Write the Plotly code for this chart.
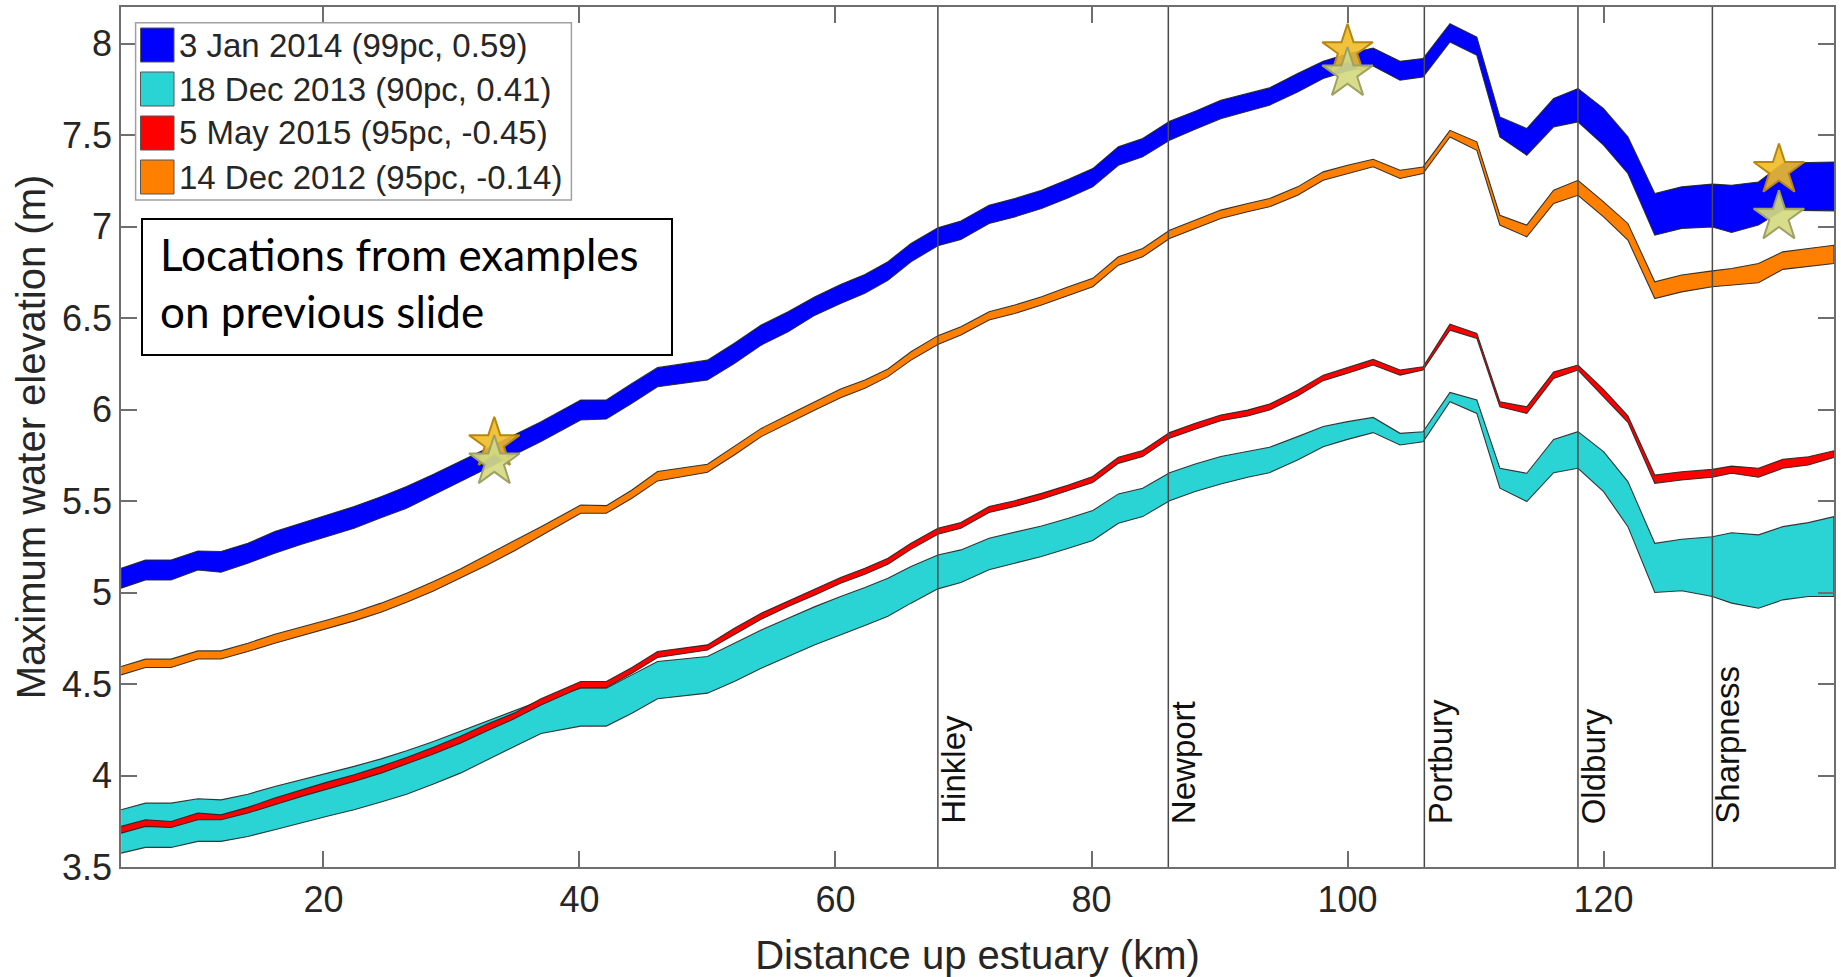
import plotly.graph_objects as go

# ---------------- data ----------------
dist_km = [4.2, 6.1, 8.1, 10.2, 12.0, 14.1, 16.2, 18.3, 20.3, 22.4, 24.5, 26.5, 28.6, 30.7, 32.8, 34.9, 37.0,
           40.1, 42.1, 44.1, 46.1, 50.0, 52.1, 54.2, 56.3, 58.4, 60.4, 62.3, 64.1, 65.9, 68.0,
           69.8, 72.0, 74.0, 76.1, 78.2, 80.1, 82.1, 84.0, 86.1, 88.1, 90.1, 92.2, 93.9, 96.1, 98.1, 100.0, 102.0,
           104.1, 105.9, 108.0, 110.1, 111.9, 114.0, 116.1, 118.0, 120.0, 121.9, 124.0, 126.1, 128.5, 130.0, 132.1,
           134.0, 136.0, 138.0]

jan2014_upper = [5.133, 5.178, 5.178, 5.227, 5.224, 5.269, 5.333, 5.378, 5.424, 5.470, 5.524, 5.579, 5.646, 5.715, 5.788, 5.861, 5.934,
                 6.052, 6.052, 6.143, 6.229, 6.270, 6.362, 6.462, 6.535, 6.617, 6.684, 6.738, 6.808, 6.908, 6.993,
                 7.030, 7.117, 7.153, 7.199, 7.259, 7.317, 7.436, 7.481, 7.576, 7.630, 7.690, 7.727, 7.758, 7.836, 7.903, 7.945, 7.976,
                 7.903, 7.918, 8.109, 8.036, 7.599, 7.536, 7.700, 7.754, 7.645, 7.490, 7.181, 7.217, 7.232, 7.226, 7.244, 7.345, 7.350, 7.353]
jan2014_lower = [5.024, 5.069, 5.069, 5.123, 5.111, 5.160, 5.215, 5.264, 5.306, 5.351, 5.409, 5.460, 5.533, 5.602, 5.679, 5.752, 5.825,
                 5.943, 5.948, 6.034, 6.125, 6.161, 6.252, 6.352, 6.425, 6.516, 6.580, 6.635, 6.707, 6.808, 6.895,
                 6.930, 7.017, 7.053, 7.099, 7.157, 7.217, 7.335, 7.381, 7.472, 7.532, 7.590, 7.630, 7.663, 7.736, 7.809, 7.850, 7.878,
                 7.800, 7.818, 8.009, 7.936, 7.490, 7.390, 7.545, 7.572, 7.445, 7.290, 6.953, 6.990, 6.998, 6.968, 7.008, 7.090, 7.088, 7.086]

dec2013_upper = [3.813, 3.849, 3.849, 3.873, 3.867, 3.898, 3.940, 3.977, 4.013, 4.050, 4.091, 4.135, 4.186, 4.241, 4.299, 4.353, 4.410,
                 4.477, 4.477, 4.550, 4.623, 4.650, 4.723, 4.795, 4.860, 4.923, 4.978, 5.027, 5.078, 5.142, 5.205,
                 5.233, 5.297, 5.328, 5.364, 5.406, 5.448, 5.539, 5.570, 5.655, 5.702, 5.743, 5.770, 5.794, 5.852, 5.907, 5.934, 5.957,
                 5.870, 5.879, 6.094, 6.052, 5.679, 5.652, 5.837, 5.879, 5.770, 5.606, 5.269, 5.291, 5.305, 5.327, 5.315, 5.360, 5.382, 5.415]
dec2013_lower = [3.576, 3.607, 3.607, 3.640, 3.640, 3.667, 3.704, 3.740, 3.777, 3.813, 3.855, 3.898, 3.953, 4.013, 4.086, 4.159, 4.230,
                 4.270, 4.270, 4.340, 4.420, 4.450, 4.514, 4.586, 4.650, 4.714, 4.769, 4.820, 4.870, 4.942, 5.020,
                 5.055, 5.124, 5.160, 5.197, 5.242, 5.284, 5.379, 5.415, 5.502, 5.552, 5.593, 5.630, 5.655, 5.724, 5.797, 5.837, 5.874,
                 5.806, 5.824, 6.043, 5.979, 5.570, 5.497, 5.655, 5.679, 5.551, 5.360, 5.000, 5.010, 4.978, 4.942, 4.914, 4.960, 4.978, 4.978]

may2015_upper = [3.722, 3.758, 3.749, 3.795, 3.785, 3.826, 3.877, 3.922, 3.964, 4.004, 4.050, 4.099, 4.154, 4.214, 4.281, 4.341, 4.420,
                 4.514, 4.514, 4.590, 4.678, 4.714, 4.805, 4.887, 4.954, 5.020, 5.082, 5.133, 5.187, 5.269, 5.351,
                 5.383, 5.470, 5.502, 5.542, 5.588, 5.634, 5.739, 5.776, 5.874, 5.925, 5.970, 5.997, 6.030, 6.106, 6.188, 6.230, 6.274,
                 6.216, 6.234, 6.467, 6.416, 6.043, 6.015, 6.206, 6.243, 6.110, 5.966, 5.642, 5.660, 5.673, 5.691, 5.679, 5.728, 5.742, 5.775]
may2015_lower = [3.685, 3.722, 3.716, 3.758, 3.758, 3.795, 3.840, 3.886, 3.927, 3.968, 4.013, 4.062, 4.117, 4.177, 4.244, 4.310, 4.385,
                 4.481, 4.481, 4.559, 4.645, 4.686, 4.772, 4.854, 4.923, 4.987, 5.051, 5.100, 5.155, 5.236, 5.318,
                 5.351, 5.437, 5.470, 5.510, 5.557, 5.601, 5.706, 5.743, 5.843, 5.892, 5.939, 5.965, 5.997, 6.074, 6.158, 6.198, 6.243,
                 6.188, 6.216, 6.434, 6.389, 6.015, 5.979, 6.170, 6.216, 6.070, 5.930, 5.597, 5.615, 5.630, 5.652, 5.630, 5.679, 5.697, 5.739]

dec2012_upper = [4.596, 4.636, 4.636, 4.681, 4.681, 4.723, 4.772, 4.810, 4.850, 4.892, 4.942, 4.996, 5.060, 5.129, 5.205, 5.282, 5.360,
                 5.478, 5.475, 5.560, 5.661, 5.701, 5.797, 5.897, 5.970, 6.043, 6.112, 6.161, 6.222, 6.316, 6.404,
                 6.453, 6.535, 6.571, 6.617, 6.671, 6.717, 6.835, 6.880, 6.980, 7.035, 7.090, 7.126, 7.153, 7.217, 7.299, 7.335, 7.368,
                 7.308, 7.326, 7.526, 7.463, 7.062, 7.008, 7.199, 7.253, 7.135, 7.017, 6.698, 6.735, 6.758, 6.771, 6.798, 6.862, 6.880, 6.898]
dec2012_lower = [4.550, 4.590, 4.590, 4.637, 4.637, 4.678, 4.723, 4.765, 4.805, 4.845, 4.892, 4.947, 5.009, 5.078, 5.151, 5.227, 5.310,
                 5.433, 5.433, 5.515, 5.610, 5.657, 5.752, 5.852, 5.925, 5.997, 6.065, 6.116, 6.180, 6.270, 6.356,
                 6.407, 6.489, 6.525, 6.571, 6.625, 6.671, 6.789, 6.835, 6.935, 6.990, 7.044, 7.081, 7.108, 7.171, 7.253, 7.290, 7.327,
                 7.263, 7.290, 7.490, 7.417, 7.008, 6.944, 7.126, 7.171, 7.053, 6.926, 6.607, 6.643, 6.671, 6.680, 6.693, 6.766, 6.780, 6.798]

series_names = ["3 Jan 2014 (99pc, 0.59)", "18 Dec 2013 (90pc, 0.41)",
                "5 May 2015 (95pc, -0.45)", "14 Dec 2012 (95pc, -0.14)"]
series_upper = [jan2014_upper, dec2013_upper, may2015_upper, dec2012_upper]
series_lower = [jan2014_lower, dec2013_lower, may2015_lower, dec2012_lower]
series_colors = ["#0000FF", "#2BD4D4", "#FF0000", "#FF8000"]

location_names = ["Hinkley", "Newport", "Portbury", "Oldbury", "Sharpness"]
location_km = [68.0, 86.0, 106.0, 118.0, 128.5]

star_km = [33.35, 100.0, 133.7]
star_gold_elev = [5.815, 7.963, 7.308]
star_green_elev = [5.715, 7.836, 7.053]

x_ticks = [20, 40, 60, 80, 100, 120]
y_ticks = [3.5, 4, 4.5, 5, 5.5, 6, 6.5, 7, 7.5, 8]
y_tick_text = ["3.5", "4", "4.5", "5", "5.5", "6", "6.5", "7", "7.5", "8"]

box_text = "Locations from examples<br>on previous slide"

# ---------------- layout helpers (pixel -> paper) ----------------
W, H = 1841, 977
L, R, T, B = 121, 1834, 7, 867


def px(xp):
    return (xp - L) / (R - L)


def py(yp):
    return (B - yp) / (B - T)


AX_FONT = "Liberation Sans, Arial, Helvetica, sans-serif"
TXT = "#262626"

fig = go.Figure()

for name, up, lo, col in zip(series_names, series_upper, series_lower, series_colors):
    fig.add_trace(go.Scatter(
        x=dist_km + dist_km[::-1],
        y=up + lo[::-1],
        fill="toself", fillcolor=col, mode="lines",
        line=dict(color="rgba(35,35,35,0.9)", width=1.1),
        name=name, showlegend=False, hoverinfo="skip"))

fig.add_trace(go.Scatter(
    x=star_km, y=star_gold_elev, mode="markers", showlegend=False,
    marker=dict(symbol="star", size=38, color="rgba(240,188,40,0.9)",
                line=dict(color="#B8860B", width=2))))
fig.add_trace(go.Scatter(
    x=star_km, y=star_green_elev, mode="markers", showlegend=False,
    marker=dict(symbol="star", size=38, color="rgba(212,218,128,0.92)",
                line=dict(color="#9FA164", width=2))))

shapes = []
annotations = []

# vertical location lines and labels
for nm, xk in zip(location_names, location_km):
    shapes.append(dict(type="line", xref="x", yref="paper", x0=xk, x1=xk, y0=0, y1=1,
                       line=dict(color="#4a4a4a", width=1.5), layer="above"))
    annotations.append(dict(x=xk, y=3.725, xref="x", yref="y", text=nm, showarrow=False,
                            textangle=-90, xanchor="left", yanchor="bottom", xshift=-5,
                            font=dict(family=AX_FONT, size=33, color="#111111")))

# legend box
shapes.append(dict(type="rect", xref="paper", yref="paper",
                   x0=px(135.6), x1=px(571.4), y0=py(200), y1=py(22.7),
                   line=dict(color="#a0a0a0", width=1.5), fillcolor="white", layer="above"))
row_centers = [45, 89, 133, 177]
for nm, col, c in zip(series_names, series_colors, row_centers):
    shapes.append(dict(type="rect", xref="paper", yref="paper",
                       x0=px(140.5), x1=px(174), y0=py(c + 17), y1=py(c - 17),
                       line=dict(color="#555555", width=1), fillcolor=col, layer="above"))
    annotations.append(dict(x=px(177), y=py(c), xref="paper", yref="paper", text=nm,
                            showarrow=False, xanchor="left", yanchor="middle",
                            font=dict(family=AX_FONT, size=33, color=TXT)))

# text box
shapes.append(dict(type="rect", xref="paper", yref="paper",
                   x0=px(142), x1=px(672), y0=py(355), y1=py(219),
                   line=dict(color="black", width=2), fillcolor="white", layer="above"))
annotations.append(dict(x=px(158), y=py(226), xref="paper", yref="paper", text=box_text,
                        showarrow=False, xanchor="left", yanchor="top", align="left",
                        font=dict(family="Lato, Open Sans, sans-serif", size=44, color="black")))

fig.update_layout(
    width=W, height=H,
    margin=dict(l=L, r=W - R, t=T, b=H - B, autoexpand=False),
    paper_bgcolor="white", plot_bgcolor="white",
    showlegend=False,
    shapes=shapes, annotations=annotations,
    font=dict(family=AX_FONT, color=TXT),
)
fig.update_xaxes(
    range=[4.19, 138.0], tickvals=x_ticks, ticks="inside", ticklen=16, tickwidth=1.5,
    tickcolor="#6e6e6e", showline=True, linecolor="#6e6e6e", linewidth=1.5, mirror="ticks",
    showgrid=False, zeroline=False,
    tickfont=dict(family=AX_FONT, size=36, color=TXT),
    title=dict(text="Distance up estuary (km)", font=dict(family=AX_FONT, size=40, color=TXT), standoff=22),
)
fig.update_yaxes(
    range=[3.5, 8.2], tickvals=y_ticks, ticktext=y_tick_text, ticks="inside", ticklen=16, tickwidth=1.5,
    tickcolor="#6e6e6e", showline=True, linecolor="#6e6e6e", linewidth=1.5, mirror="ticks",
    showgrid=False, zeroline=False,
    tickfont=dict(family=AX_FONT, size=36, color=TXT),
    title=dict(text="Maximum water elevation (m)", font=dict(family=AX_FONT, size=40, color=TXT), standoff=4),
)

fig.write_html("out.html", config={"displayModeBar": False},
               post_script="document.body.style.margin='0px';document.body.style.overflow='hidden';")
